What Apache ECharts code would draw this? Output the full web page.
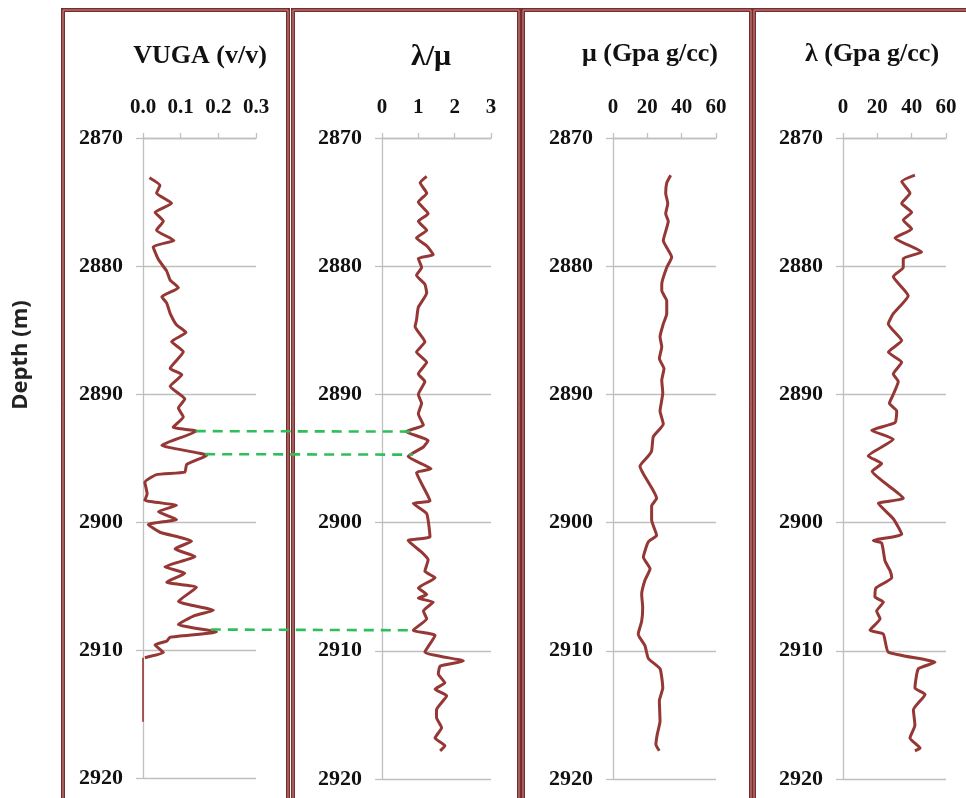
<!DOCTYPE html>
<html>
<head>
<meta charset="utf-8">
<script src="https://cdn.jsdelivr.net/npm/echarts@6/dist/echarts.min.js"></script>
<style>
  html, body { margin: 0; padding: 0; background: #ffffff; }
  #chart { width: 966px; height: 798px; }
</style>
</head>
<body>
<div id="chart"></div>
<script>
// ---- Well-log tracks: depth (m) against four curves ----
const depthMin = 2870;
const depthMax = 2920;
const depthStep = 10;

// VUGA (v/v)
const vugaDepth = [2873.1, 2873.7, 2874.3, 2875.1, 2875.8, 2876.5, 2877.2, 2878.0, 2878.5, 2879.5,
  2880.4, 2881.1, 2881.7, 2882.4, 2882.9, 2883.7, 2884.6, 2885.2, 2885.9, 2886.7,
  2888.0, 2888.5, 2889.4, 2890.4, 2891.1, 2891.8, 2892.6, 2892.9, 2894.0, 2894.8,
  2895.5, 2896.1, 2896.3, 2896.9, 2897.8, 2898.3, 2898.7, 2899.2, 2899.8, 2900.2,
  2900.8, 2901.5, 2902.1, 2902.7, 2903.5, 2904.0, 2904.7, 2905.1, 2906.2, 2906.9,
  2907.3, 2908.0, 2908.6, 2909.0, 2909.3, 2909.6, 2910.2, 2910.6];
const vuga = [0.017, 0.045, 0.036, 0.076, 0.032, 0.054, 0.036, 0.082, 0.027, 0.041,
  0.063, 0.072, 0.094, 0.050, 0.063, 0.072, 0.089, 0.114, 0.076, 0.107,
  0.072, 0.103, 0.072, 0.111, 0.094, 0.107, 0.080, 0.142, 0.050, 0.169,
  0.116, 0.111, 0.036, 0.005, 0.011, 0.005, 0.089, 0.041, 0.089, 0.014,
  0.045, 0.129, 0.085, 0.138, 0.058, 0.111, 0.063, 0.142, 0.094, 0.187,
  0.138, 0.094, 0.195, 0.072, 0.063, 0.032, 0.054, 0.005];
// zero-porosity interval below the vuggy zone
const vugaZeroDepth = [2910.6, 2915.6];
const vugaZero = [0, 0];

// lambda / mu ratio
const ratioDepth = [2873.0, 2873.5, 2874.3, 2875.0, 2875.9, 2876.5, 2877.2, 2877.8, 2878.4, 2879.1,
  2879.4, 2880.1, 2880.7, 2881.4, 2882.1, 2883.2, 2884.2, 2884.7, 2885.9, 2886.7,
  2887.5, 2888.4, 2889.0, 2890.0, 2890.7, 2891.5, 2892.4, 2892.9, 2893.6, 2894.1,
  2894.85, 2895.8, 2896.1, 2898.3, 2898.5, 2899.3, 2901.1, 2901.4, 2902.3, 2902.9,
  2903.8, 2904.3, 2905.1, 2905.6, 2905.9, 2906.2, 2906.9, 2907.5, 2908.4, 2908.8,
  2910.1, 2910.8, 2911.2, 2911.8, 2912.5, 2913.0, 2913.5, 2914.6, 2915.2, 2916.0,
  2916.8, 2917.4, 2917.8];
const ratio = [1.23, 1.05, 1.23, 1.00, 1.27, 1.00, 1.23, 0.95, 1.23, 1.41,
  1.00, 1.09, 0.95, 1.18, 1.23, 1.00, 0.95, 0.91, 1.18, 0.95,
  1.23, 1.00, 1.18, 1.00, 1.09, 1.00, 1.14, 0.66, 1.27, 1.14,
  0.72, 1.35, 0.95, 1.32, 0.86, 1.23, 1.32, 0.72, 1.09, 1.27,
  1.18, 1.46, 1.00, 1.23, 1.00, 1.41, 1.14, 1.23, 0.86, 1.46,
  1.18, 2.24, 1.60, 1.55, 1.73, 1.46, 1.78, 1.50, 1.50, 1.64,
  1.46, 1.73, 1.60];

// mu (GPa g/cc)
const muDepth = [2872.9, 2873.5, 2874.3, 2875.1, 2875.9, 2876.5, 2878.0, 2879.3, 2880.1, 2881.4,
  2881.9, 2882.7, 2883.7, 2884.5, 2885.5, 2886.3, 2887.2, 2888.0, 2888.9, 2889.9,
  2891.3, 2892.3, 2893.3, 2894.4, 2894.8, 2895.6, 2898.1, 2898.7, 2899.8, 2901.0,
  2901.5, 2902.7, 2903.6, 2904.5, 2905.6, 2906.6, 2907.7, 2908.7, 2909.6, 2910.6,
  2911.4, 2912.9, 2913.9, 2915.5, 2916.5, 2917.3, 2917.8];
const mu = [33.6, 31.3, 30.7, 31.9, 30.7, 32.2, 29.3, 34.2, 31.3, 28.4,
  28.4, 31.3, 31.3, 29.3, 27.4, 28.4, 27.0, 29.7, 28.4, 29.0,
  27.4, 29.3, 23.5, 22.5, 20.6, 15.7, 25.4, 22.5, 22.5, 25.4,
  20.6, 17.7, 21.6, 18.6, 16.7, 17.3, 16.7, 14.7, 18.6, 20.6,
  27.4, 29.0, 27.0, 27.4, 25.8, 25.0, 27.0];

// lambda (GPa g/cc)
const lambdaDepth = [2872.9, 2873.4, 2874.3, 2875.1, 2875.8, 2876.4, 2877.1, 2877.8, 2878.9, 2879.4,
  2880.1, 2880.8, 2882.3, 2883.7, 2884.5, 2885.8, 2886.7, 2887.5, 2888.4, 2889.0,
  2890.0, 2890.7, 2891.3, 2892.2, 2892.8, 2893.5, 2894.8, 2895.4, 2896.0, 2898.1,
  2898.5, 2899.7, 2900.9, 2901.4, 2901.6, 2903.0, 2903.75, 2904.3, 2905.1, 2905.8,
  2906.2, 2906.9, 2907.5, 2908.4, 2908.7, 2910.1, 2910.9, 2911.4, 2912.9, 2913.4,
  2914.6, 2915.8, 2916.8, 2917.6, 2917.8];
const lambda = [41.9, 34.2, 39.0, 34.2, 40.0, 35.1, 40.0, 30.3, 45.8, 35.1,
  35.1, 29.3, 38.0, 29.3, 26.4, 34.2, 26.4, 34.2, 29.3, 32.2,
  29.3, 27.0, 31.3, 30.3, 16.7, 29.3, 14.7, 22.5, 17.0, 35.1,
  20.6, 29.3, 34.2, 17.7, 22.5, 24.5, 27.4, 28.4, 19.2, 18.6,
  23.5, 19.6, 21.6, 15.7, 23.5, 26.4, 53.6, 43.9, 41.9, 47.8,
  41.0, 41.9, 39.0, 44.9, 41.9];

// correlation markers tying the VUGA peaks to the lambda/mu track
const markerDepth = [2892.9, 2894.7, 2908.4];
const markerVuga = [0.14, 0.165, 0.18];
const markerRatio = [0.77, 0.85, 0.78];

// track headers and scales
const trackTitles = ['VUGA (v/v)', 'λ/μ', 'μ (Gpa g/cc)', 'λ (Gpa g/cc)'];
const depthTitle = 'Depth (m)';
const trackMax = [0.3, 3, 60, 60];
const trackStep = [0.1, 1, 20, 20];
const trackDecimals = [1, 0, 0, 0];

const pair = (xs, ds) => xs.map((v, i) => [v, ds[i]]);

const SERIF = "'Liberation Serif', 'Times New Roman', serif";
const CURVE = '#953735';
const AXIS_GRAY = '#bfbfbf';
const FRAME = '#7a2b2b';

const grids = [
  { left: 143, top: 138, width: 113, height: 640 },
  { left: 382, top: 138, width: 109, height: 641 },
  { left: 613, top: 138, width: 103, height: 641 },
  { left: 843, top: 138, width: 103, height: 641 }
];

const xAxes = grids.map((g, i) => ({
  type: 'value',
  gridIndex: i,
  position: 'top',
  min: 0,
  max: trackMax[i],
  interval: trackStep[i],
  axisLine: { show: true, lineStyle: { color: AXIS_GRAY, width: 1.3 } },
  axisTick: { show: true, length: 5, lineStyle: { color: AXIS_GRAY, width: 1.3 } },
  splitLine: { show: false },
  axisLabel: {
    show: true,
    margin: 20,
    color: '#111',
    fontFamily: SERIF,
    fontWeight: 'bold',
    fontSize: 21,
    showMinLabel: true,
    showMaxLabel: true,
    formatter: v => Number(v).toFixed(trackDecimals[i])
  }
}));

const yAxes = grids.map((g, i) => ({
  type: 'value',
  gridIndex: i,
  inverse: true,
  min: depthMin,
  max: depthMax,
  interval: depthStep,
  axisLine: { show: true, lineStyle: { color: AXIS_GRAY, width: 1.3 } },
  axisTick: { show: true, length: 7, lineStyle: { color: AXIS_GRAY, width: 1.3 } },
  splitLine: { show: true, lineStyle: { color: AXIS_GRAY, width: 1.3 } },
  axisLabel: {
    show: true,
    margin: 20,
    color: '#111',
    fontFamily: SERIF,
    fontWeight: 'bold',
    fontSize: 22,
    showMinLabel: true,
    showMaxLabel: true,
    formatter: v => String(Math.round(v))
  }
}));

const curve = (name, i, data, width) => ({
  name,
  type: 'line',
  xAxisIndex: i,
  yAxisIndex: i,
  data,
  symbol: 'none',
  smooth: 0.15,
  clip: false,
  lineStyle: { color: CURVE, width },
  z: 5
});

const series = [
  curve('VUGA', 0, pair(vuga, vugaDepth), 3),
  curve('VUGA zero', 0, pair(vugaZero, vugaZeroDepth), 1.6),
  curve('λ/μ', 1, pair(ratio, ratioDepth), 3),
  curve('μ', 2, pair(mu, muDepth), 3),
  curve('λ', 3, pair(lambda, lambdaDepth), 3)
];

const chart = echarts.init(document.getElementById('chart'), null, { renderer: 'canvas' });
chart.setOption({
  animation: false,
  backgroundColor: '#ffffff',
  grid: grids,
  xAxis: xAxes,
  yAxis: yAxes,
  series
});

// Track frames (double rule) and headers
const frames = [
  { x: 63, y: 10, w: 225, h: 820 },
  { x: 293, y: 10, w: 226, h: 820 },
  { x: 523, y: 10, w: 228, h: 820 },
  { x: 754, y: 10, w: 240, h: 820 }
];
const titlePos = [[200, 56], [431, 57], [650, 54], [872, 54]];

const graphics = [];
frames.forEach(f => {
  graphics.push({
    type: 'rect', silent: true, z: 1,
    shape: { x: f.x, y: f.y, width: f.w, height: f.h },
    style: { fill: null, stroke: FRAME, lineWidth: 4 }
  });
  graphics.push({
    type: 'rect', silent: true, z: 2,
    shape: { x: f.x, y: f.y, width: f.w, height: f.h },
    style: { fill: null, stroke: '#c98f8f', lineWidth: 1 }
  });
});
trackTitles.forEach((t, i) => {
  graphics.push({
    type: 'text', silent: true, z: 10,
    x: titlePos[i][0], y: titlePos[i][1],
    style: {
      text: t,
      fontFamily: SERIF,
      fontWeight: 'bold',
      fontSize: i === 1 ? 30 : 26,
      fill: '#111',
      align: 'center',
      verticalAlign: 'middle'
    }
  });
});
// depth axis caption
graphics.push({
  type: 'text', silent: true, z: 10,
  x: 21, y: 355, rotation: Math.PI / 2,
  style: {
    text: depthTitle,
    fontFamily: "'Open Sans', 'Noto Sans', sans-serif",
    fontWeight: 'bold',
    fontSize: 22,
    fill: '#222',
    align: 'center',
    verticalAlign: 'middle'
  }
});

// Dashed correlation lines, positioned through the track scales
markerDepth.forEach((d, k) => {
  const p0 = chart.convertToPixel({ gridIndex: 0 }, [markerVuga[k], d]);
  const p1 = chart.convertToPixel({ gridIndex: 1 }, [markerRatio[k], d]);
  graphics.push({
    type: 'line', silent: true, z: 20,
    shape: { x1: p0[0], y1: p0[1], x2: p1[0], y2: p1[1] },
    style: { stroke: '#2fbf5a', lineWidth: 2.6, lineDash: [10, 7] }
  });
});

chart.setOption({ graphic: graphics });
</script>
</body>
</html>
